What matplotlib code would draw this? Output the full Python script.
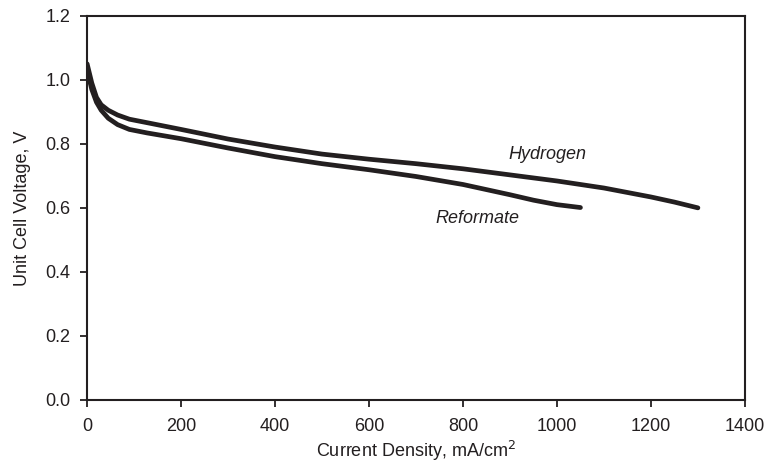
import matplotlib.pyplot as plt

plt.rcParams['font.family'] = ['Liberation Sans', 'DejaVu Sans']

# current density (mA/cm2) and unit cell voltage (V)
h2_x = [0, 5, 10, 20, 30, 45, 65, 90, 128, 200, 300, 400, 500, 600, 700, 800,
        900, 1000, 1100, 1200, 1250, 1300]
h2_v = [1.05, 1.02, 0.99, 0.945, 0.922, 0.905, 0.89, 0.877, 0.866, 0.845, 0.815,
        0.79, 0.768, 0.752, 0.738, 0.722, 0.703, 0.684, 0.662, 0.634, 0.618, 0.60]

ref_x = [0, 5, 10, 20, 30, 45, 65, 90, 128, 200, 300, 400, 500, 600, 700, 800,
         850, 900, 950, 1000, 1050]
ref_v = [1.03, 1.0, 0.97, 0.93, 0.905, 0.88, 0.86, 0.845, 0.834, 0.816, 0.787,
         0.760, 0.738, 0.719, 0.698, 0.673, 0.657, 0.641, 0.624, 0.610, 0.601]

fig, ax = plt.subplots(figsize=(7.64, 4.65), dpi=100)
fig.subplots_adjust(left=0.114, right=0.975, top=0.966, bottom=0.140)

ax.plot(h2_x, h2_v, color='#231f20', lw=3.4, solid_capstyle='round', solid_joinstyle='round')
ax.plot(ref_x, ref_v, color='#231f20', lw=3.4, solid_capstyle='round', solid_joinstyle='round')

ax.text(979, 0.766, 'Hydrogen', style='italic', fontsize=13, ha='center', va='center', color='#231f20')
ax.text(830, 0.566, 'Reformate', style='italic', fontsize=13, ha='center', va='center', color='#231f20')

ax.set_xlim(0, 1400)
ax.set_ylim(0, 1.2)
ax.set_xticks(range(0, 1401, 200))
ax.set_yticks([0, 0.2, 0.4, 0.6, 0.8, 1.0, 1.2])
ax.set_yticklabels(['0.0', '0.2', '0.4', '0.6', '0.8', '1.0', '1.2'])
for s in ax.spines.values():
    s.set_linewidth(1.5)
    s.set_color('#231f20')
ax.tick_params(labelsize=13, width=1.3, length=5, colors='#231f20')
ax.tick_params(axis='y', pad=7)
ax.tick_params(axis='x', pad=8)

ax.set_xlabel('Current Density, mA/cm$^2$', fontsize=13, color='#231f20', labelpad=3)
ax.set_ylabel('Unit Cell Voltage, V', fontsize=13, color='#231f20', labelpad=10)

plt.savefig('out.png', dpi=100)
